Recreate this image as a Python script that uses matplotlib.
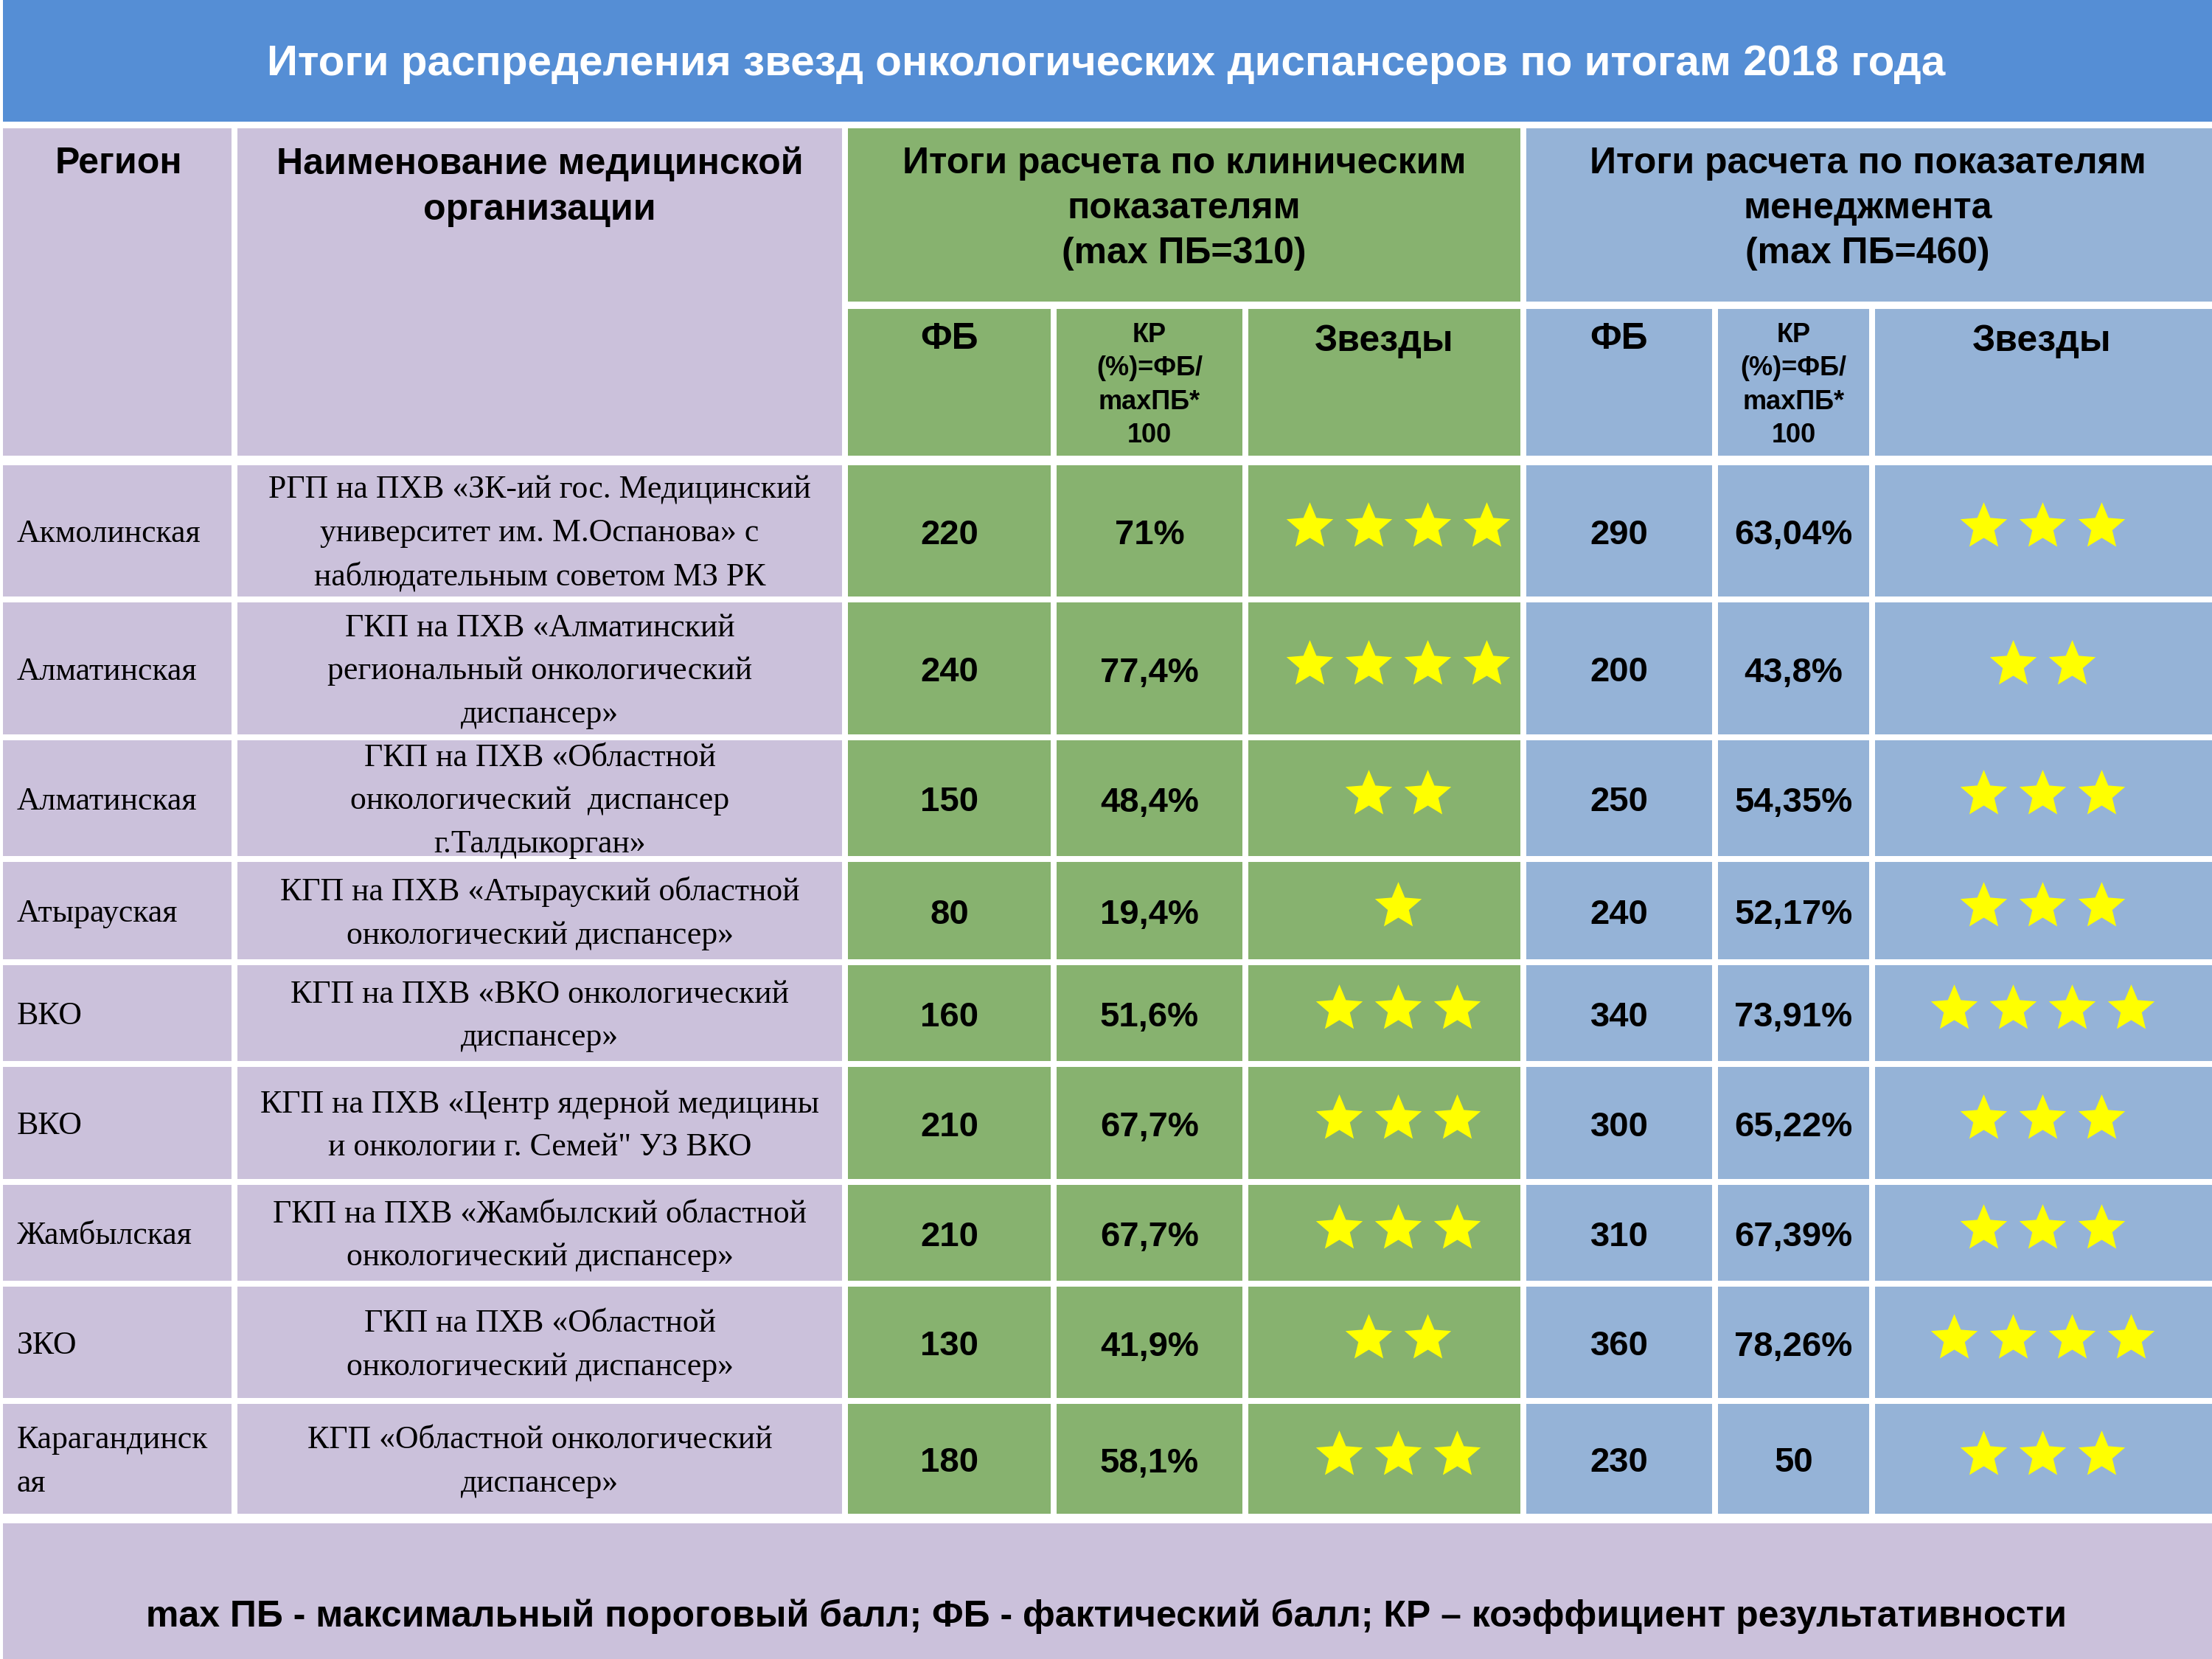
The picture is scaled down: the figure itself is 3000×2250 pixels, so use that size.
import matplotlib
matplotlib.use("Agg")
import matplotlib.pyplot as plt
from matplotlib.patches import Rectangle
import numpy as np

# данные таблицы
title = "Итоги распределения звезд онкологических диспансеров по итогам 2018 года"
regions = ["Акмолинская", "Алматинская", "Алматинская", "Атырауская", "ВКО", "ВКО",
           "Жамбылская", "ЗКО", "Карагандинск\nая"]
orgs = [
    "РГП на ПХВ «ЗК-ий гос. Медицинский\nуниверситет им. М.Оспанова» с\nнаблюдательным советом МЗ РК",
    "ГКП на ПХВ «Алматинский\nрегиональный онкологический\nдиспансер»",
    "ГКП на ПХВ «Областной\nонкологический  диспансер\nг.Талдыкорган»",
    "КГП на ПХВ «Атырауский областной\nонкологический диспансер»",
    "КГП на ПХВ «ВКО онкологический\nдиспансер»",
    "КГП на ПХВ «Центр ядерной медицины\nи онкологии г. Семей\" УЗ ВКО",
    "ГКП на ПХВ «Жамбылский областной\nонкологический диспансер»",
    "ГКП на ПХВ «Областной\nонкологический диспансер»",
    "КГП «Областной онкологический\nдиспансер»",
]
fb_clin = [220, 240, 150, 80, 160, 210, 210, 130, 180]
kr_clin = ["71%", "77,4%", "48,4%", "19,4%", "51,6%", "67,7%", "67,7%", "41,9%", "58,1%"]
stars_clin = [4, 4, 2, 1, 3, 3, 3, 2, 3]
fb_man = [290, 200, 250, 240, 340, 300, 310, 360, 230]
kr_man = ["63,04%", "43,8%", "54,35%", "52,17%", "73,91%", "65,22%", "67,39%", "78,26%", "50"]
stars_man = [3, 2, 3, 3, 4, 3, 3, 4, 3]

head_cols = ["Регион", "Наименование медицинской\nорганизации"]
group_clin = "Итоги расчета по клиническим\nпоказателям\n(max ПБ=310)"
group_man = "Итоги расчета по показателям\nменеджмента\n(max ПБ=460)"
sub_fb = "ФБ"
sub_kr = "КР\n(%)=ФБ/\nmaxПБ*\n100"
sub_st = "Звезды"
footer = "max ПБ - максимальный пороговый балл; ФБ - фактический балл; КР – коэффициент результативности"

# цвета
c_title = "#558ED5"
c_lav = "#CBC1DB"
c_green = "#87B26F"
c_blue = "#95B3D7"
c_star = "#FFFF00"

# сетка (пиксели)
cols = [4, 318, 1146, 1429, 1689, 2066, 2326, 2539, 3000]
rows = [622, 813, 1000, 1165, 1305, 1443, 1603, 1741, 1900, 2057]
g = 4

fig = plt.figure(figsize=(30, 22.5), dpi=100)
ax = fig.add_axes([0, 0, 1, 1])
ax.set_xlim(0, 3000)
ax.set_ylim(2250, 0)
ax.axis("off")


def cell(x0, x1, y0, y1, color):
    ax.add_patch(Rectangle((x0, y0), x1 - x0, y1 - y0, facecolor=color, edgecolor="none"))


sans = "Liberation Sans"
serif = "Liberation Serif"

# заголовок
cell(4, 3000, 0, 165, c_title)
ax.text(1500, 87, title, ha="center", va="center", color="white", fontsize=42,
        fontweight="bold", family=sans)

# шапка
cell(cols[0], cols[1] - g, 174, 618, c_lav)
cell(cols[1] + g, cols[2] - g, 174, 618, c_lav)
cell(cols[2] + g, cols[5] - g, 174, 409, c_green)
cell(cols[5] + g, cols[8], 174, 409, c_blue)
for i in range(2, 8):
    color = c_green if i < 5 else c_blue
    x1 = cols[i + 1] - g if i < 7 else cols[i + 1]
    cell(cols[i] + g, x1, 419, 618, color)

hkw = dict(ha="center", va="top", fontsize=36, fontweight="bold", family=sans, linespacing=1.42)
ax.text((cols[0] + cols[1]) / 2, 199, head_cols[0], **hkw)
ax.text((cols[1] + cols[2]) / 2, 199, head_cols[1], **hkw)
ax.text((cols[2] + cols[5]) / 2, 199, group_clin, **hkw)
ax.text((cols[5] + cols[8]) / 2, 199, group_man, **hkw)
for k in (2, 5):
    ax.text((cols[k] + cols[k + 1]) / 2, 437, sub_fb, **hkw)
    ax.text((cols[k + 1] + cols[k + 2]) / 2, 437, sub_kr, ha="center", va="top",
            fontsize=26, fontweight="bold", family=sans, linespacing=1.38)
    ax.text((cols[k + 2] + cols[k + 3]) / 2, 440, sub_st, **hkw)

# звезда
t = np.linspace(0, 2 * np.pi, 11)[:-1] + np.pi / 2
r = np.where(np.arange(10) % 2 == 0, 1.0, 0.45)
star = np.column_stack([r * np.cos(t), r * np.sin(t)])

# строки
for i in range(len(regions)):
    y0 = rows[i] + g + (5 if i == 0 else 0)
    y1 = rows[i + 1] - g
    yc = (y0 + y1) / 2
    for j in range(8):
        color = c_lav if j < 2 else (c_green if j < 5 else c_blue)
        x0 = cols[j] if j == 0 else cols[j] + g
        x1 = cols[j + 1] if j == 7 else cols[j + 1] - g
        cell(x0, x1, y0, y1, color)
    ax.text(23, yc + 4, regions[i], ha="left", va="center", fontsize=31.5, family=serif, linespacing=1.6)
    ax.text((cols[1] + cols[2]) / 2, yc + 4, orgs[i], ha="center", va="center", fontsize=31.5,
            family=serif, linespacing=1.6)
    nkw = dict(ha="center", va="center", fontsize=34, fontweight="bold", family=sans)
    ax.text((cols[2] + cols[3]) / 2, yc + 6, str(fb_clin[i]), **nkw)
    ax.text((cols[3] + cols[4]) / 2, yc + 6, kr_clin[i], **nkw)
    ax.text((cols[5] + cols[6]) / 2, yc + 6, str(fb_man[i]), **nkw)
    ax.text((cols[6] + cols[7]) / 2, yc + 6, kr_man[i], **nkw)
    for n, xc in ((stars_clin[i], (cols[4] + cols[5]) / 2 + 18), (stars_man[i], (cols[7] + cols[8]) / 2)):
        xs = xc + (np.arange(n) - (n - 1) / 2) * 80
        ax.plot(xs, np.full(n, yc - 6), linestyle="none", marker=star, markersize=48,
                color=c_star, markeredgewidth=0)

# подвал
cell(4, 3000, 2066, 2250, c_lav)
ax.text(1500, 2192, footer, ha="center", va="center", fontsize=36, fontweight="bold", family=sans)

fig.savefig("out.png", dpi=100, facecolor="white")
